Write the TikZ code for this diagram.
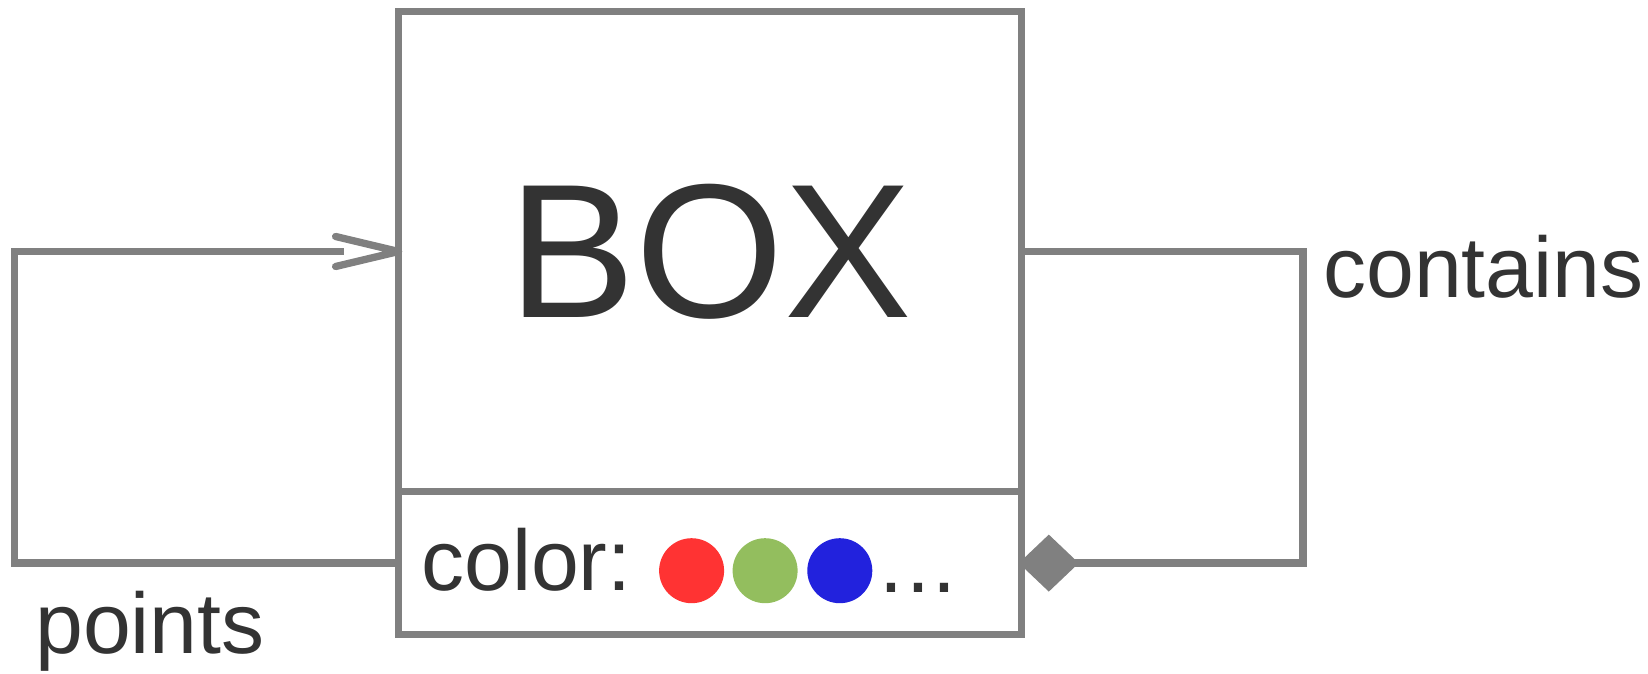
\documentclass[tikz,border=0pt]{standalone}
\usepackage{fontspec}
\setmainfont{Liberation Sans}
\usetikzlibrary{arrows.meta}
\definecolor{linegray}{HTML}{808080}
\definecolor{txt}{HTML}{333333}
\definecolor{cred}{HTML}{FF3333}
\definecolor{cgreen}{HTML}{93BE5E}
\definecolor{cblue}{HTML}{2222DD}
\tikzset{
  boxpart/.style={draw=linegray, line width=7.3pt, line join=miter, inner sep=0pt, outer sep=0pt, minimum width=623.2pt, text=txt},
  conn/.style={draw=linegray, line width=7.3pt, line join=miter},
  barb/.style={draw=linegray, line width=7.3pt, line cap=round, line join=round},
  lbl/.style={text=txt, font=\fontsize{86}{86}\selectfont, inner sep=0pt, anchor=base west},
  swatch/.style={circle, minimum size=65pt, inner sep=0pt, draw=none}
}
\begin{document}
\begin{tikzpicture}[x=1pt,y=-1pt]
\useasboundingbox (0,0) rectangle (1648,674);
\node[boxpart, minimum height=479.8pt, anchor=north west, font=\fontsize{191}{191}\selectfont] (top) at (398.6,11.6) {BOX};
\node[boxpart, minimum height=143.4pt, anchor=north west] (bottom) at (398.6,491.4) {};
\node[lbl] (attr) at (421,590.7) {color:};
\node[swatch, fill=cred] (c1) at (691.6,570.7) {};
\node[swatch, fill=cgreen] (c2) at (765.1,570.7) {};
\node[swatch, fill=cblue] (c3) at (839.8,570.7) {};
\node[lbl] (more) at (879,592.5) {.\kern3pt.\kern3pt.};
\coordinate (lx) at (14.7,400);
\coordinate (rx) at (1303,400);
\draw[conn, shorten >=55pt] (bottom.west) -| (lx) |- (top.west);
\draw[barb] ([shift={(-63,-15)}]top.west) -- (top.west) -- ([shift={(-63,15)}]top.west);
\draw[conn, -{Diamond[length=60pt, width=57pt, line width=0pt]}, shorten >=-3pt] (top.east) -| (rx) |- (bottom.east);
\node[lbl] (contains) at (1323,297.4) {contains};
\node[lbl] (points) at (35,653.7) {points};
\end{tikzpicture}
\end{document}
